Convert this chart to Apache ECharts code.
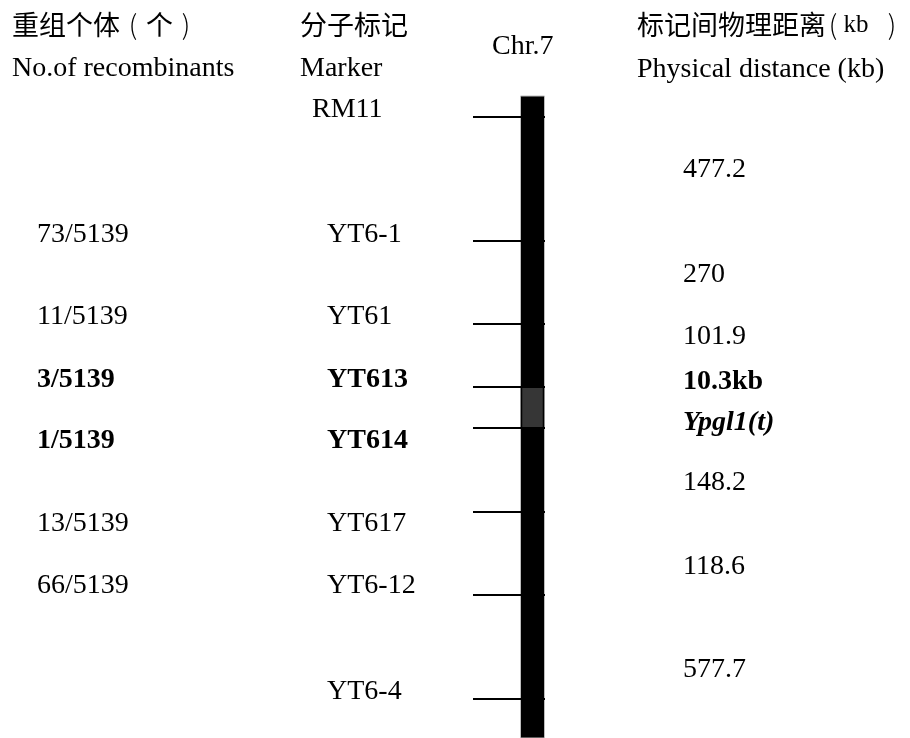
<!DOCTYPE html>
<html>
<head>
<meta charset="utf-8">
<script src="https://cdn.jsdelivr.net/npm/echarts@6/dist/echarts.min.js"></script>
<style>
  html, body { margin: 0; padding: 0; background: #fff; }
  #chart { width: 910px; height: 738px; }
</style>
</head>
<body>
<div id="chart"></div>
<script>
// Fine map of the Ypgl1(t) region on chromosome 7
const chrName = 'Chr.7';
const markers = ['RM11', 'YT6-1', 'YT61', 'YT613', 'YT614', 'YT617', 'YT6-12', 'YT6-4'];
// schematic map position of each marker along the chromosome
const markerPos = [0, 124, 207, 270, 311, 395, 478, 582];
const recombinants = ['', '73/5139', '11/5139', '3/5139', '1/5139', '13/5139', '66/5139', ''];
// physical distance between neighbouring markers (kb)
const distances = ['477.2', '270', '101.9', '10.3kb', '148.2', '118.6', '577.7'];
const geneName = 'Ypgl1(t)';
const geneFlank = ['YT613', 'YT614'];
const chrSpan = [-21, 621];

// layout / style
const SERIF = '"Liberation Serif", "Times New Roman", serif';
const CJK = '"Noto Sans CJK SC", sans-serif';
const FS = 28;
const CFS = 27;
const DY = 2; // optical centring of serif text
const X = { recomb: 37, marker: 327, markerFirst: 312, tickL: 473, barL: 521, barW: 23, tickR: 545, dist: 683 };
const markerLabelShift = [-9, -8, -9, -9, 11, 10, -11, -9];
const distLabelShift = [-11, -10, -21, -28, 11, 11, 21];
const geneLabelShift = 13;

const chart = echarts.init(document.getElementById('chart'), null, { renderer: 'canvas' });

const isKey = name => geneFlank.indexOf(name) >= 0;
const gi0 = markers.indexOf(geneFlank[0]);
const gi1 = markers.indexOf(geneFlank[1]);

function txt(x, y, text, font) {
  return {
    type: 'text',
    style: {
      x: x, y: y + DY, text: text,
      font: font || (FS + 'px ' + SERIF),
      fill: '#000',
      textAlign: 'left',
      textVerticalAlign: 'middle'
    }
  };
}

function header(x, y, text, rich) {
  const el = {
    type: 'text', x: x, y: rich ? y : y + DY,
    style: { text: text, font: FS + 'px ' + SERIF, fill: '#000', align: 'left', verticalAlign: 'middle' }
  };
  if (rich) el.style.rich = rich;
  return el;
}

const cjkRich = {
  c: { font: CFS + 'px ' + CJK, fill: '#000', lineHeight: 36, verticalAlign: 'middle' },
  p: { font: '300 ' + CFS + 'px ' + CJK, fill: '#000', lineHeight: 36, width: 26, align: 'center', verticalAlign: 'middle' },
  p1: { font: '300 ' + CFS + 'px ' + CJK, fill: '#000', lineHeight: 36, width: 14, align: 'center', verticalAlign: 'middle' },
  p2: { font: '300 ' + CFS + 'px ' + CJK, fill: '#000', lineHeight: 36, width: 40, align: 'center', verticalAlign: 'middle' },
  k: { font: '25px ' + SERIF, fill: '#000', lineHeight: 36, width: 32, align: 'center', verticalAlign: 'middle' }
};

const option = {
  animation: false,
  backgroundColor: '#fff',
  grid: { left: 0, right: 0, top: 96, bottom: 0 },
  xAxis: { type: 'value', min: 0, max: 1, show: false },
  yAxis: { type: 'value', inverse: true, min: chrSpan[0], max: chrSpan[1], show: false },
  graphic: [
    header(12, 25, '{c|重组个体}{p|(}{c|个}{p|)}', cjkRich),
    header(12, 67, 'No.of recombinants'),
    header(300, 25, '{c|分子标记}', cjkRich),
    header(300, 67, 'Marker'),
    header(492, 45, chrName),
    header(637, 25, '{c|标记间物理距离}{p1|(}{k|kb}{p2|)}', cjkRich),
    header(637, 68, 'Physical distance (kb)')
  ],
  series: [
    {
      // chromosome body
      type: 'custom',
      coordinateSystem: 'cartesian2d',
      data: [chrSpan],
      z: 1,
      renderItem: function (params, api) {
        const y0 = api.coord([0, api.value(0)])[1];
        const y1 = api.coord([0, api.value(1)])[1];
        return {
          type: 'rect',
          shape: { x: X.barL - 0.5, y: y0, width: X.barW + 1, height: y1 - y0 },
          style: { fill: '#000', stroke: '#bdbdbd', lineWidth: 1 }
        };
      }
    },
    {
      // candidate gene interval
      type: 'custom',
      coordinateSystem: 'cartesian2d',
      data: [[markerPos[gi0], markerPos[gi1]]],
      z: 2,
      renderItem: function (params, api) {
        const y0 = api.coord([0, api.value(0)])[1];
        const y1 = api.coord([0, api.value(1)])[1];
        return {
          type: 'rect',
          shape: { x: X.barL + 0.5, y: y0, width: X.barW - 1, height: y1 - y0 },
          style: { fill: '#363636', stroke: '#000', lineWidth: 1.5 }
        };
      }
    },
    {
      // marker ticks with names and recombinant counts
      type: 'custom',
      coordinateSystem: 'cartesian2d',
      data: markerPos.map((p, i) => [0, p, i]),
      z: 3,
      renderItem: function (params, api) {
        const i = api.value(2);
        const y = api.coord([0, api.value(1)])[1];
        const name = markers[i];
        const font = (isKey(name) ? 'bold ' : '') + FS + 'px ' + SERIF;
        const ly = y + markerLabelShift[i];
        const children = [
          {
            type: 'line',
            shape: { x1: X.tickL, y1: y, x2: X.tickR, y2: y },
            style: { stroke: '#000', lineWidth: 2 }
          },
          txt(i === 0 ? X.markerFirst : X.marker, ly, name, font)
        ];
        if (recombinants[i]) children.push(txt(X.recomb, ly, recombinants[i], font));
        return { type: 'group', children: children };
      }
    },
    {
      // physical distance between adjacent markers
      type: 'custom',
      coordinateSystem: 'cartesian2d',
      data: distances.map((d, i) => [markerPos[i], markerPos[i + 1], i]),
      z: 3,
      renderItem: function (params, api) {
        const i = api.value(2);
        const y0 = api.coord([0, api.value(0)])[1];
        const y1 = api.coord([0, api.value(1)])[1];
        const mid = (y0 + y1) / 2;
        const bold = i === gi0;
        const children = [
          txt(X.dist, mid + distLabelShift[i], distances[i], (bold ? 'bold ' : '') + FS + 'px ' + SERIF)
        ];
        if (bold) {
          children.push(txt(X.dist, mid + geneLabelShift, geneName, 'italic bold ' + FS + 'px ' + SERIF));
        }
        return { type: 'group', children: children };
      }
    }
  ]
};

chart.setOption(option);
</script>
</body>
</html>
